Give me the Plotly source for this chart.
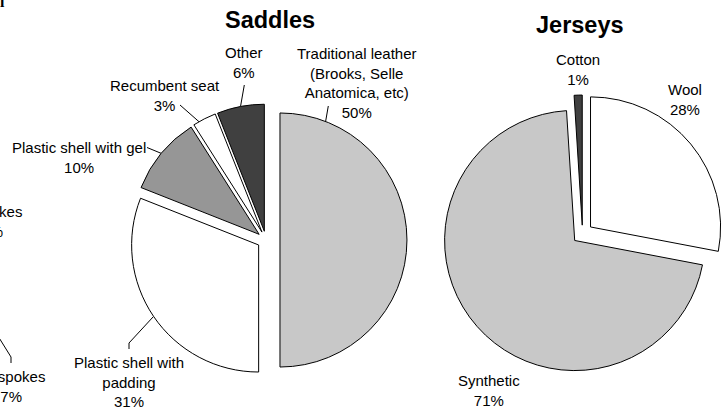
import math
import plotly.graph_objects as go

W, H = 723, 408

# --- data -------------------------------------------------------------
saddle_names = ["Traditional leather (Brooks, Selle Anatomica, etc)",
                "Plastic shell with padding", "Plastic shell with gel",
                "Recumbent seat", "Other"]
saddle_text = ["Traditional leather<br>(Brooks, Selle<br>Anatomica, etc)",
               "Plastic shell with<br>padding", "Plastic shell with gel",
               "Recumbent seat", "Other"]
saddle_values = [50, 31, 10, 3, 6]
saddle_colors = ["#C8C8C8", "#FFFFFF", "#969696", "#FFFFFF", "#404040"]
saddle_pull = [0.11, 0.07, 0.07, 0.07, 0.07]

jersey_names = ["Wool", "Synthetic", "Cotton"]
jersey_values = [28, 71, 1]
jersey_colors = ["#FFFFFF", "#C8C8C8", "#404040"]
jersey_pull = [0.08, 0.08, 0.065]

wheel_names = ["36 spokes", "32 spokes"]
wheel_values = [93, 7]

FONT = "Liberation Sans, Arial, sans-serif"


def px_to_paper(x, y):
    return x / W, 1 - y / H


def domain(cx, cy, box):
    x0, y1 = px_to_paper(cx - box / 2, cy - box / 2)
    x1, y0 = px_to_paper(cx + box / 2, cy + box / 2)
    return dict(x=[max(0, x0), min(1, x1)], y=[max(0, y0), min(1, y1)])


def slice_geometry(cx, cy, box, values, pulls):
    """Radius, exploded centres and angular extents, as plotly lays them out."""
    r = box / (2 + 2 * max(pulls))
    total = float(sum(values))
    out, acc = [], 0.0
    for v, p in zip(values, pulls):
        a0 = 360 * acc / total
        a1 = 360 * (acc + v) / total
        mid = math.radians((a0 + a1) / 2)
        ocx = cx + p * r * math.sin(mid)
        ocy = cy - p * r * math.cos(mid)
        out.append((ocx, ocy, a0, a1))
        acc += v
    return r, out


def arc_point(r, sl, frac=0.5):
    ocx, ocy, a0, a1 = sl
    t = math.radians(a0 + frac * (a1 - a0))
    return ocx + r * math.sin(t), ocy - r * math.cos(t)


fig = go.Figure()

# --- pies -------------------------------------------------------------
S_CX, S_CY, S_BOX = 266, 240, 282
J_CX, J_CY, J_BOX = 582.5, 233.6, 281

for names, vals, cols, pulls, cx, cy, box in [
    (saddle_names, saddle_values, saddle_colors, saddle_pull, S_CX, S_CY, S_BOX),
    (jersey_names, jersey_values, jersey_colors, jersey_pull, J_CX, J_CY, J_BOX),
]:
    fig.add_trace(go.Pie(
        labels=names, values=vals, sort=False, direction="clockwise",
        rotation=0, pull=pulls, textinfo="none", hoverinfo="label+percent",
        marker=dict(colors=cols, line=dict(color="#000000", width=1)),
        domain=domain(cx, cy, box), showlegend=False,
    ))

s_r, s_sl = slice_geometry(S_CX, S_CY, S_BOX, saddle_values, saddle_pull)
j_r, j_sl = slice_geometry(J_CX, J_CY, J_BOX, jersey_values, jersey_pull)

# --- labels -----------------------------------------------------------
annotations = []


def label(text, x, y, size=15, bold=False, family=FONT):
    px, py = px_to_paper(x, y)
    annotations.append(dict(
        text=f"<b>{text}</b>" if bold else text, x=px, y=py,
        xref="paper", yref="paper", xanchor="center", yanchor="middle",
        showarrow=False, font=dict(family=family, size=size, color="#000000"),
    ))


saddle_label_pos = [(357, 83.5), (129, 382), (79, 157.5), (165, 95.5), (244, 62.5)]
for txt, v, (x, y) in zip(saddle_text, saddle_values, saddle_label_pos):
    label(f"{txt}<br>{v}%", x, y)

jersey_label_pos = [(685, 99), (489, 390), (578, 69)]
for txt, v, (x, y) in zip(jersey_names, jersey_values, jersey_label_pos):
    label(f"{txt}<br>{v}%", x, y)

wheel_label_pos = [(-12, 222), (11, 386)]
for txt, v, (x, y) in zip(wheel_names, wheel_values, wheel_label_pos):
    label(f"{txt}<br>{v}%", x, y)

label("Saddles", 270, 20, size=23.5, bold=True)
label("Jerseys", 580, 25, size=23.5, bold=True)
label("l", 2, 2, size=16, bold=True, family="Liberation Serif, serif")

# --- leader lines (pixel overlay axes) --------------------------------
leaders = [
    [(328.3, 106), arc_point(s_r, s_sl[0], 0.117)],
    [(244.3, 85), arc_point(s_r, s_sl[4])],
    [(180, 105), arc_point(s_r, s_sl[3], 0.25)],
    [(147, 147.5), arc_point(s_r, s_sl[2])],
    [(129, 349), (129, 343), arc_point(s_r, s_sl[1])],
    [(11, 363), (11, 357), (-12, 320)],
]
for pts in leaders:
    fig.add_trace(go.Scatter(
        x=[p[0] for p in pts], y=[p[1] for p in pts], mode="lines",
        line=dict(color="#000000", width=1), hoverinfo="skip",
        showlegend=False, xaxis="x", yaxis="y",
    ))

fig.update_layout(
    width=W, height=H, margin=dict(l=0, r=0, t=0, b=0),
    paper_bgcolor="#FFFFFF", plot_bgcolor="rgba(0,0,0,0)",
    xaxis=dict(range=[0, W], visible=False, fixedrange=True, domain=[0, 1]),
    yaxis=dict(range=[H, 0], visible=False, fixedrange=True, domain=[0, 1]),
    annotations=annotations, showlegend=False,
)

fig.write_html("out.html")
